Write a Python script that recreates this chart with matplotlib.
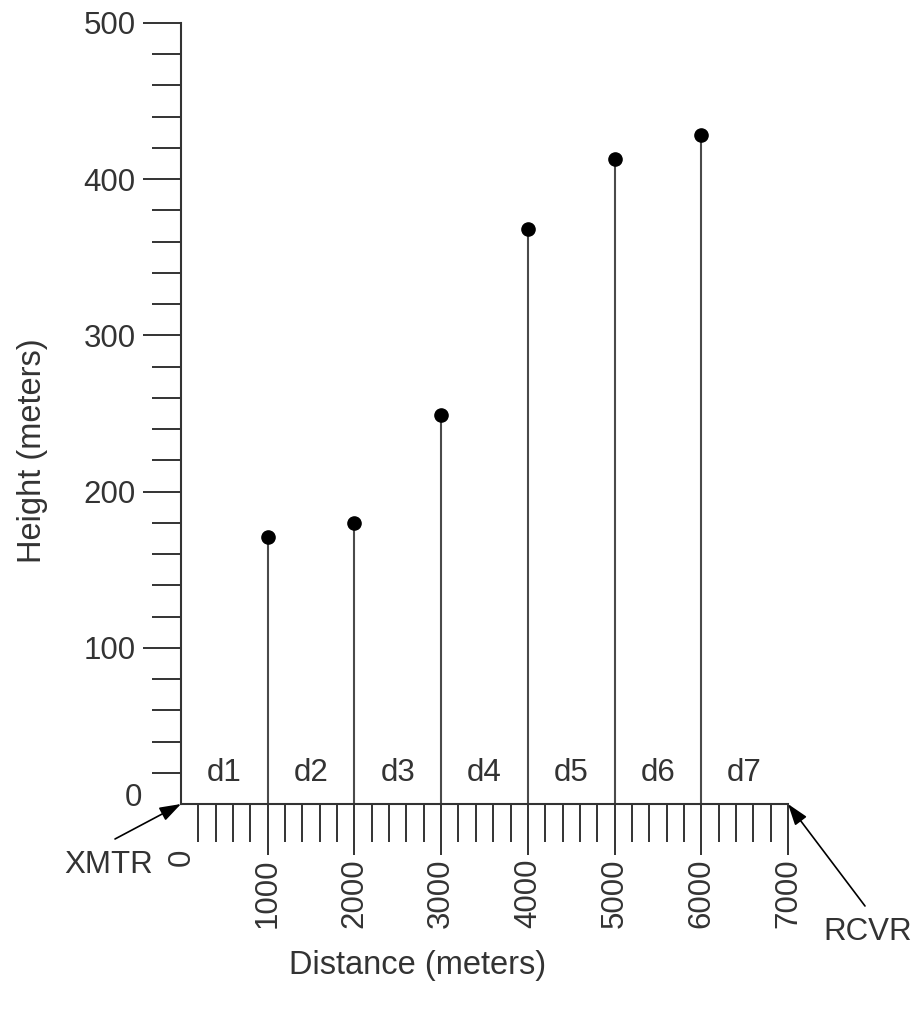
import numpy as np
import matplotlib
matplotlib.use("Agg")
import matplotlib.pyplot as plt
from matplotlib.ticker import FixedLocator
from matplotlib.transforms import ScaledTranslation

plt.rcParams['font.family'] = ['Liberation Sans', 'DejaVu Sans']

# data
distance = [1000, 2000, 3000, 4000, 5000, 6000]
height = [171, 180, 249, 368, 413, 428]
seg_labels = ['d1', 'd2', 'd3', 'd4', 'd5', 'd6', 'd7']
seg_centers = [500, 1500, 2500, 3500, 4500, 5500, 6500]
x_major = [1000, 2000, 3000, 4000, 5000, 6000, 7000]
y_major = [100, 200, 300, 400, 500]

ink = '#333333'
fs = 22.5

fig = plt.figure(figsize=(9.15, 10.11), dpi=100)
ax = fig.add_axes([181/915, 1 - 804/1011, 607/915, 781/1011])

ax.set_xlim(0, 7000)
ax.set_ylim(0, 500)

for s in ['top', 'right']:
    ax.spines[s].set_visible(False)
for s in ['left', 'bottom']:
    ax.spines[s].set_color(ink)
    ax.spines[s].set_linewidth(1.5)

# stems + dots
ax.vlines(distance, 0, height, color='#4a4a4a', lw=1.5, zorder=2)
ax.plot(distance, height, 'o', color='black', ms=9.5, zorder=3, clip_on=False)

# segment labels
for lab, xc in zip(seg_labels, seg_centers):
    ax.text(xc, 20, lab, ha='center', va='center', fontsize=fs, color=ink)

# ticks (0 has no tick line in the original)
x_minor = [v for v in range(200, 7000, 200) if v % 1000 != 0]
y_minor = [v for v in range(20, 500, 20) if v % 100 != 0]
ax.xaxis.set_major_locator(FixedLocator(x_major))
ax.xaxis.set_minor_locator(FixedLocator(x_minor))
ax.yaxis.set_major_locator(FixedLocator(y_major))
ax.yaxis.set_minor_locator(FixedLocator(y_minor))
ax.set_xticklabels([str(v) for v in x_major], rotation=90, fontsize=fs, color=ink)
ax.set_yticklabels([str(v) for v in y_major], fontsize=fs, color=ink)

ax.tick_params(axis='x', which='major', direction='out', length=36.5, width=1.4, color=ink, pad=3)
ax.tick_params(axis='x', which='minor', direction='out', length=27.5, width=1.4, color=ink)
ax.tick_params(axis='y', which='major', direction='out', length=27.5, width=1.4, color=ink, pad=5)
ax.tick_params(axis='y', which='minor', direction='out', length=21, width=1.4, color=ink)

# the two "0" labels
ax.annotate('0', xy=(0, 0), xytext=(-39, 6), textcoords='offset pixels',
            ha='right', va='center', fontsize=fs, color=ink, annotation_clip=False)
ax.annotate('0', xy=(0, 0), xytext=(1, -45), textcoords='offset pixels',
            ha='center', va='top', rotation=90, fontsize=fs, color=ink, annotation_clip=False)

# axis titles
ax.text(-0.244, 0.452, 'Height (meters)', transform=ax.transAxes, rotation=90,
        ha='center', va='center', fontsize=23.5, color=ink)
ax.text(0.39, -0.207, 'Distance (meters)', transform=ax.transAxes,
        ha='center', va='center', fontsize=23.5, color=ink)

# XMTR / RCVR arrows
arrow = dict(arrowstyle='-|>,head_length=0.65,head_width=0.22', mutation_scale=20,
             color='black', lw=1.2, shrinkA=0, shrinkB=0)
ax.annotate('', xy=(0, 0), xytext=(-66, -35), textcoords='offset pixels',
            arrowprops=arrow, annotation_clip=False)
ax.text(0, 0, 'XMTR', ha='center', va='center', fontsize=fs, color=ink,
        transform=ax.transData + ScaledTranslation(-72/100, -61/100, fig.dpi_scale_trans))
ax.annotate('', xy=(7000, 0), xytext=(77, -102), textcoords='offset pixels',
            arrowprops=arrow, annotation_clip=False)
ax.text(7000, 0, 'RCVR', ha='center', va='center', fontsize=fs, color=ink,
        transform=ax.transData + ScaledTranslation(80/100, -128/100, fig.dpi_scale_trans))

fig.savefig('out.png', dpi=100, facecolor='white')
